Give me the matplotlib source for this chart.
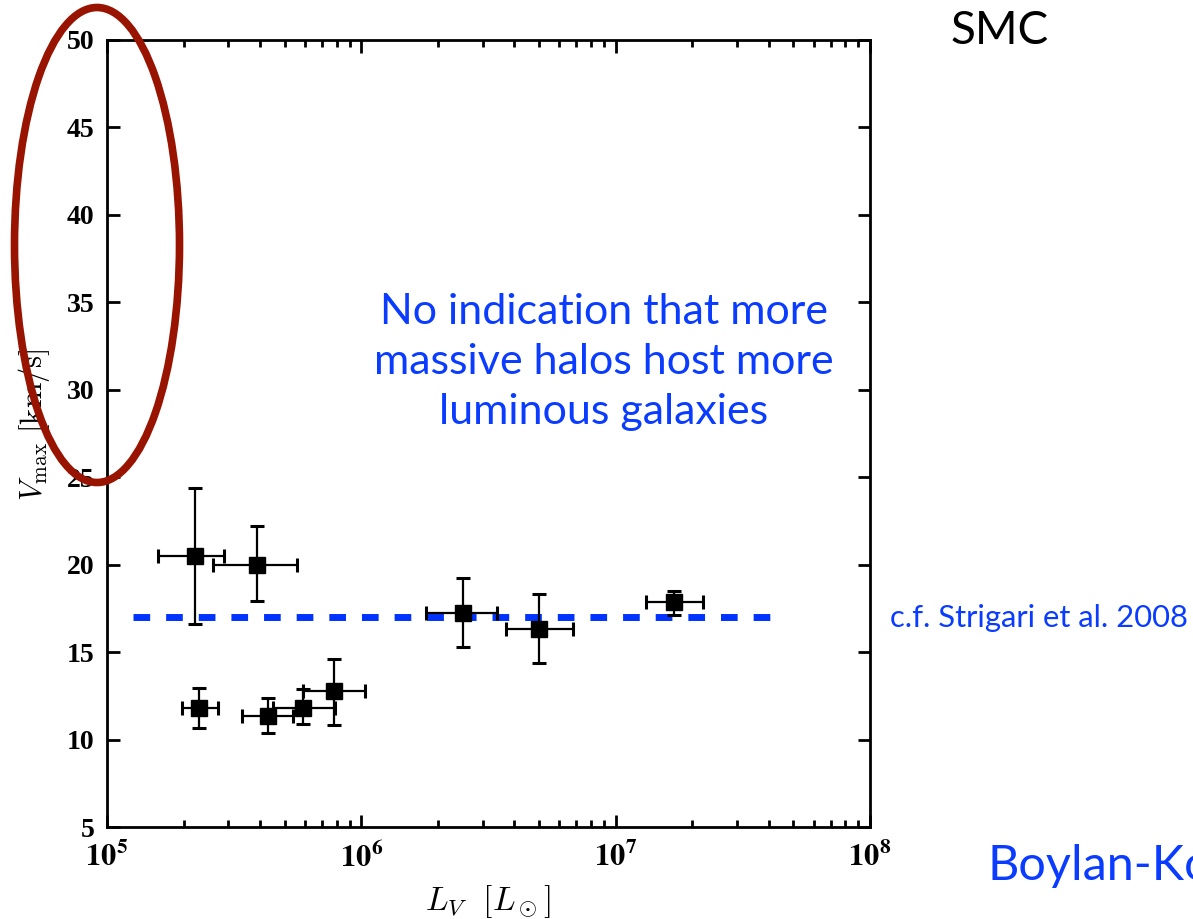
import math
import matplotlib
matplotlib.use("Agg")
import matplotlib.pyplot as plt
from matplotlib.patches import Ellipse
from matplotlib.ticker import FixedLocator, LogLocator, FuncFormatter

# luminosity, vmax and error bars
lum = [2.22e5, 3.88e5, 2.30e5, 4.28e5, 5.89e5, 7.8e5, 2.5e6, 5.0e6, 1.70e7]
lum_lo = [1.59e5, 2.60e5, 1.98e5, 3.39e5, 4.48e5, 5.9e5, 1.79e6, 3.69e6, 1.31e7]
lum_hi = [2.88e5, 5.60e5, 2.72e5, 5.40e5, 7.90e5, 1.03e6, 3.40e6, 6.78e6, 2.20e7]
vmax = [20.5, 20.0, 11.8, 11.35, 11.8, 12.75, 17.25, 16.35, 17.85]
vmax_lo = [16.6, 17.9, 10.65, 10.35, 10.9, 10.85, 15.3, 14.35, 17.1]
vmax_hi = [24.4, 22.2, 12.95, 12.35, 12.9, 14.6, 19.25, 18.35, 18.5]

line_x = [1.27e5, 4.5e7]
line_v = 17.0

yticks = [5, 10, 15, 20, 25, 30, 35, 40, 45, 50]
xticks = [1e5, 1e6, 1e7, 1e8]

fig = plt.figure(figsize=(11.93, 9.19), dpi=100)
ax = fig.add_axes([0.0897, 0.1001, 0.6396, 0.8564])

xerr = [[l - lo for l, lo in zip(lum, lum_lo)], [hi - l for l, hi in zip(lum, lum_hi)]]
yerr = [[v - lo for v, lo in zip(vmax, vmax_lo)], [hi - v for v, hi in zip(vmax, vmax_hi)]]
ax.errorbar(lum, vmax, xerr=xerr, yerr=yerr, fmt='s', color='black', ms=11,
            elinewidth=1.6, capsize=5, capthick=2.2, zorder=3)
ax.plot(line_x, [line_v, line_v], color='#0033ff', lw=5, dashes=(2.4, 2.3), zorder=2)

ax.set_xscale('log')
ax.set_xlim(1e5, 1e8)
ax.set_ylim(5, 50)
ax.xaxis.set_major_locator(FixedLocator(xticks))
ax.xaxis.set_minor_locator(LogLocator(base=10, subs=range(2, 10)))
ax.xaxis.set_major_formatter(FuncFormatter(lambda v, p: r'$\mathbf{10^{%d}}$' % round(math.log10(v))))
ax.set_yticks(yticks)
ax.tick_params(which='both', direction='in', top=True, right=True, width=2)
ax.tick_params(which='major', length=9)
ax.tick_params(which='minor', length=5)
ax.tick_params(axis='x', pad=10)
ax.tick_params(axis='y', pad=9)
for s in ax.spines.values():
    s.set_linewidth(2)
for t in ax.get_yticklabels():
    t.set_fontfamily('Liberation Serif')
    t.set_fontweight('bold')
    t.set_fontsize(20)
for t in ax.get_xticklabels():
    t.set_fontsize(22)
    t.set_math_fontfamily('stix')

fig.text(0.0285, 0.5375, r'$V_{\rm max}\ [{\rm km/s}]$', rotation=90, fontsize=22,
         ha='center', va='center', math_fontfamily='cm')
fig.text(0.409, 0.0098, r'$L_V\ \ [L_\odot]$', fontsize=24, ha='center', va='baseline',
         math_fontfamily='cm')

blue = '#0a3cff'
fig.text(0.506, 0.606, 'No indication that more\nmassive halos host more\nluminous galaxies',
         color=blue, fontsize=31, fontfamily='Lato', ha='center', va='center', linespacing=1.4)
fig.text(0.838, 0.966, 'SMC', color='black', fontsize=33, fontfamily='Lato', ha='center', va='center')
fig.text(0.746, 0.328, 'c.f. Strigari et al. 2008', color=blue, fontsize=22.3, fontfamily='Lato',
         ha='left', va='center')
fig.text(0.828, 0.0424, 'Boylan-Kolchin', color=blue, fontsize=35, fontfamily='Lato',
         ha='left', va='baseline')

fig.add_artist(Ellipse((97 / 1193, 1 - 245 / 919), 165 / 1193, 475 / 919, transform=fig.transFigure,
                       fill=False, edgecolor='#991400', lw=5.5, zorder=5))

fig.savefig('out.png', dpi=100)
